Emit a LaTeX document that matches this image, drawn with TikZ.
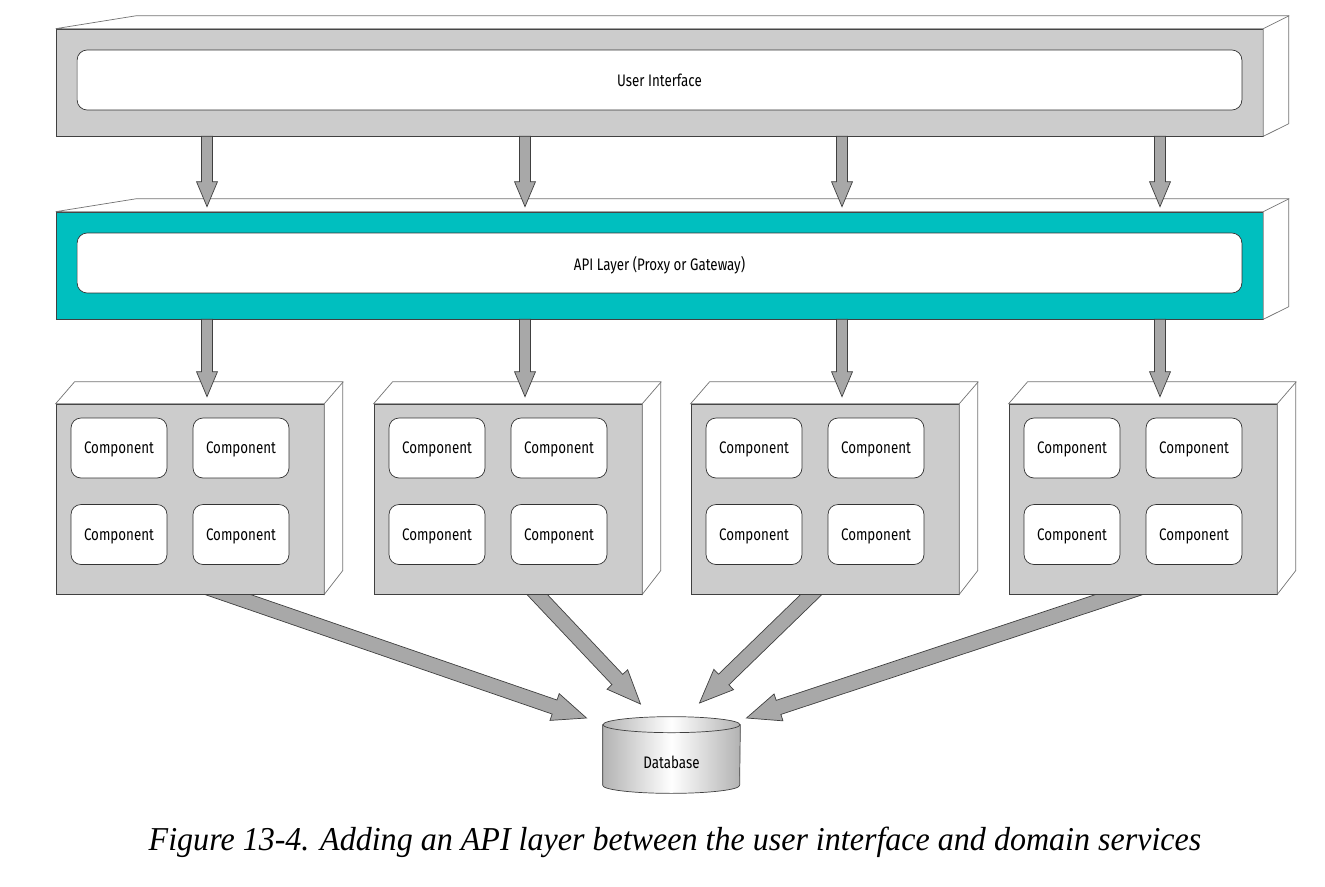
\documentclass[tikz,border=0pt]{standalone}
\usepackage{fontspec}
\newfontfamily\labelfont[FakeStretch=0.8]{Fira Sans}
\newfontfamily\capfont[FakeStretch=0.96]{Liberation Serif}
\usepackage{tikz}
\usetikzlibrary{calc, backgrounds}
\definecolor{apiteal}{RGB}{0,191,191}
\definecolor{layergray}{RGB}{204,204,204}
\definecolor{arrowgray}{RGB}{168,168,168}

% block arrow from #2 to #3, #1 scales it
\newcommand{\fatarrow}[3][1]{%
  \coordinate (fa-s) at (#2);
  \coordinate (fa-t) at (#3);
  \coordinate (fa-h) at ($(fa-t)!#1*0.5cm!(fa-s)$);
  \draw[blockarrow] ($(fa-s)!#1*0.11cm!90:(fa-t)$) -- ($(fa-h)!#1*0.11cm!90:(fa-t)$)
    -- ($(fa-h)!#1*0.21cm!90:(fa-t)$) -- (fa-t) -- ($(fa-h)!#1*0.21cm!-90:(fa-t)$)
    -- ($(fa-h)!#1*0.11cm!-90:(fa-t)$) -- ($(fa-s)!#1*0.11cm!-90:(fa-t)$) -- cycle;}

\begin{document}
\begin{tikzpicture}[x=0.02cm, y=-0.02cm, font=\labelfont\fontsize{9.5}{11}\selectfont,
    layer/.style={draw=black!75, minimum width=24.14cm, minimum height=2.14cm, inner sep=0pt},
    slab/.style={draw=black!80, fill=white, rounded corners=0.2cm, minimum width=23.3cm, minimum height=1.2cm, text depth=0pt},
    face/.style={draw=black!55, fill=white},
    service/.style={draw=black!75, fill=layergray, minimum width=5.36cm, minimum height=3.8cm, inner sep=0pt},
    comp/.style={draw=black!80, fill=white, rounded corners=0.2cm, minimum width=1.92cm, minimum height=1.2cm, text depth=0pt},
    blockarrow/.style={draw=black!75, fill=arrowgray, line join=miter},
    dbshade/.style={draw=black!75, left color=black!30, right color=black!30, middle color=white}]
  \useasboundingbox (0,0) rectangle (1325,886);
  % user interface layer
  \node[layer, fill=layergray] (ui) at (659.5,82.5) {};
  \draw[face] (ui.north west) -- ++(81,-13) -- ++(1152,0) -- ++(0,108) -- (ui.south east) -- (ui.north east) -- cycle;
  \draw[draw=black!55] (ui.north east) -- ++(26,-13);
  \node[slab] (uislab) at (659.5,80) {User Interface};
  % api layer
  \node[layer, fill=apiteal] (api) at (659.5,265.5) {};
  \draw[face] (api.north west) -- ++(81,-13) -- ++(1152,0) -- ++(0,108) -- (api.south east) -- (api.north east) -- cycle;
  \draw[draw=black!55] (api.north east) -- ++(26,-13);
  \node[slab] (apislab) at (659.5,263) {API Layer (Proxy or Gateway)};
  % domain services
  \foreach \i/\x in {1/190, 2/508, 3/825, 4/1143} {
    \node[service] (s\i) at (\x,499) {};
    \draw[face] (s\i.north west) -- ++(19,-22) -- ++(268,0) -- ++(0,189) -- (s\i.south east) -- (s\i.north east) -- cycle;
    \draw[draw=black!55] (s\i.north east) -- ++(19,-22);
    \foreach \r/\dy in {a/-51, b/35.5}
      \foreach \c/\dx in {1/-71, 2/51}
        \node[comp] (c\i\r\c) at ($(s\i)+(\dx,\dy)$) {Component};
  }
  % database
  \node[minimum width=2.74cm, minimum height=1.2cm, inner sep=0pt] (db) at (671.5,755) {};
  \draw[dbshade] (db.north west) -- (db.south west) arc[start angle=180, end angle=360, x radius=1.37cm, y radius=0.16cm] -- (db.north east) -- cycle;
  \draw[dbshade] (db.north) ellipse[x radius=1.37cm, y radius=0.16cm];
  \node (dblabel) at ($(db)+(0,7)$) {Database};
  % calls between the layers
  \foreach \i in {1,...,4} {
    \fatarrow{$(ui.south -| s\i.north)+(17,0)$}{$(api.north -| s\i.north)+(17,-5)$}
    \fatarrow{$(api.south -| s\i.north)+(17,0)$}{$(s\i.north)+(17,-7)$}
  }
  \begin{scope}[on background layer]
    \foreach \i/\fx/\fy/\tx/\ty in {1/14/-8/-85/-37, 2/12/-18/-31/-51, 3/4/-17/28/-52, 4/1/-8/75/-37} {
      \fatarrow[1.35]{$(s\i.south)+(\fx,\fy)$}{$(db)+(\tx,\ty)$}
    }
  \end{scope}
  \node[font=\capfont\itshape\fontsize{19}{22}\selectfont] (caption) at (675,842)
    {Figure 13-4. Adding an API layer between the user interface and domain services};
\end{tikzpicture}
\end{document}
